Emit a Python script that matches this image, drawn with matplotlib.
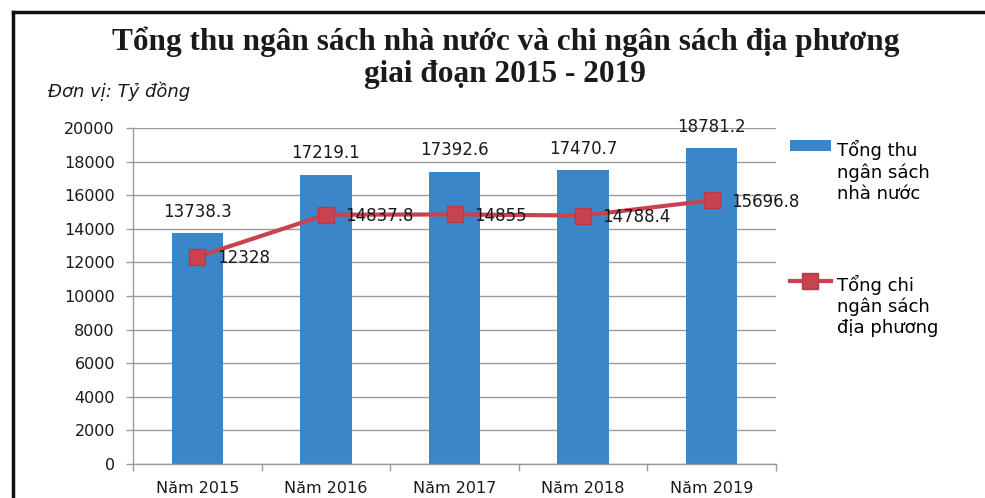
import numpy as np
import matplotlib
matplotlib.use("Agg")
import matplotlib.pyplot as plt
from matplotlib.lines import Line2D

# du lieu
years = ["Năm 2015", "Năm 2016", "Năm 2017", "Năm 2018", "Năm 2019"]
tong_thu = [13738.3, 17219.1, 17392.6, 17470.7, 18781.2]
tong_chi = [12328, 14837.8, 14855, 14788.4, 15696.8]
thu_labels = ["13738.3", "17219.1", "17392.6", "17470.7", "18781.2"]
chi_labels = ["12328", "14837.8", "14855", "14788.4", "15696.8"]
legend_thu = "Tổng thu\nngân sách\nnhà nước"
legend_chi = "Tổng chi\nngân sách\nđịa phương"

blue = "#3A86C8"
red = "#C8424F"
gray = "#9A9A9A"
txt = "#1A1A1A"

plt.rcParams['font.family'] = ['DejaVu Sans']

W, H = 985, 498
fig = plt.figure(figsize=(W / 100, H / 100), dpi=100)
ax = fig.add_axes([133 / W, 1 - 464 / H, (776 - 133) / W, (464 - 128) / H])

x = np.arange(len(years))
bars = ax.bar(x, tong_thu, width=0.4, color=blue, zorder=2, label=legend_thu)
line, = ax.plot(x, tong_chi, color=red, lw=3, marker='s', markersize=12,
                markerfacecolor=red, markeredgecolor="#B8394A", zorder=3,
                label=legend_chi)

ax.bar_label(bars, labels=thu_labels, padding=9, fontsize=12, color=txt)
for xi, yi, lab in zip(x, tong_chi, chi_labels):
    ax.annotate(lab, (xi, yi), xytext=(14, -1), textcoords='offset points',
                ha='left', va='center', fontsize=12, color=txt, zorder=4)

ax.set_xlim(-0.5, len(years) - 0.5)
ax.set_ylim(0, 20000)
ax.set_yticks(np.arange(0, 20001, 2000))
ax.yaxis.grid(True, color=gray, lw=1)
ax.set_axisbelow(True)

ax.set_xticks(x)
ax.set_xticklabels(years)
ax.set_xticks(np.arange(-0.5, len(years)), minor=True)
ax.tick_params(axis='x', which='major', length=0, pad=12, labelsize=11.5, labelcolor=txt)
ax.tick_params(axis='x', which='minor', length=5, color=gray, width=1)
ax.tick_params(axis='y', length=5, color=gray, width=1, pad=8, labelsize=11.5, labelcolor=txt)

for s in ['top', 'right']:
    ax.spines[s].set_visible(False)
for s in ['left', 'bottom']:
    ax.spines[s].set_color(gray)
    ax.spines[s].set_linewidth(1)

leg = ax.legend(handles=[bars, line], loc='upper left', bbox_to_anchor=(1.01, 0.985),
                frameon=False, fontsize=13, handlelength=2.3, handleheight=0.5,
                handletextpad=0.35, labelspacing=4.0, borderaxespad=0)
# canh bieu tuong theo dong dau cua chu
for col in leg._legend_handle_box.get_children():
    for item in col.get_children():
        item.align = "top"

# tieu de
fig.text(0.513, 1 - 50 / H, "Tổng thu ngân sách nhà nước và chi ngân sách địa phương",
         ha='center', va='baseline', fontsize=22.5, fontweight='bold',
         family='Liberation Serif', color=txt)
fig.text(0.513, 1 - 82 / H, "giai đoạn 2015 - 2019",
         ha='center', va='baseline', fontsize=22.5, fontweight='bold',
         family='Liberation Serif', color=txt)
fig.text(48 / W, 1 - 97 / H, "Đơn vị: Tỷ đồng", ha='left', va='baseline',
         fontsize=13, style='italic', color=txt)

# khung
fig.add_artist(Line2D([13 / W, 1], [1 - 12 / H, 1 - 12 / H], color='#111111', lw=2.5))
fig.add_artist(Line2D([13 / W, 13 / W], [0, 1 - 12 / H], color='#111111', lw=2.5))

fig.savefig("out.png", dpi=100)
